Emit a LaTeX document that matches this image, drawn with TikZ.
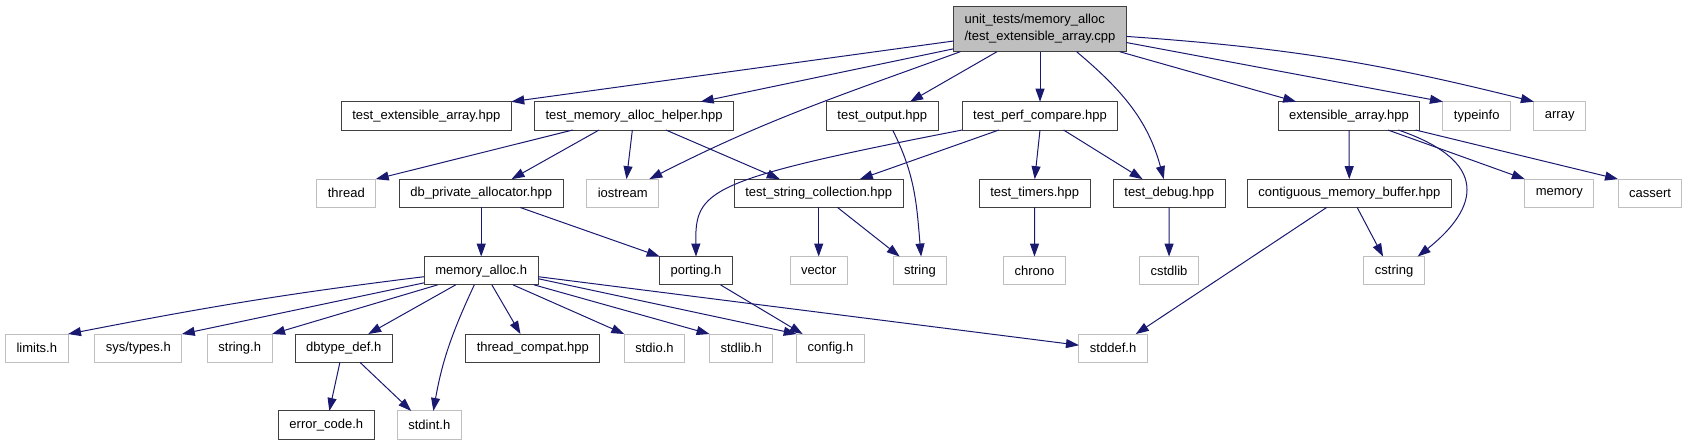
\documentclass[tikz,border=0pt]{standalone}
\usepackage{fontspec}
\setmainfont{Liberation Sans}
\usetikzlibrary{arrows.meta}
\definecolor{edgeblue}{HTML}{191970}
\definecolor{boxgray}{HTML}{BFBFBF}
\definecolor{boxdark}{HTML}{404040}
\begin{document}
\begin{tikzpicture}[x=1pt,y=-1pt,
  every node/.style={font=\fontsize{13}{16.5}\selectfont,minimum height=28.3pt,
    inner xsep=11pt,inner ysep=0pt,outer sep=0pt,line width=1pt},
  hdr/.style={draw=boxdark},
  sys/.style={draw=boxgray},
  rootbox/.style={draw=boxdark,fill=boxgray,align=left,minimum height=45.7pt},
  inc/.style={draw=edgeblue,line width=1pt,-{Triangle[length=13pt,width=9pt]}}]
\useasboundingbox (0,0) rectangle (1688,445);
% the file itself
\node[rootbox] (root) at (1040,28.85) {unit\_tests/memory\_alloc\\/test\_extensible\_array.cpp};
% first level
\node[hdr] (teah) at (426.3,115.85) {test\_extensible\_array.hpp};
\node[hdr] (tmah) at (634.1,115.85) {test\_memory\_alloc\_helper.hpp};
\node[hdr] (tout) at (882.3,115.85) {test\_output.hpp};
\node[hdr] (tpc) at (1040,115.85) {test\_perf\_compare.hpp};
\node[hdr] (eah) at (1349,115.85) {extensible\_array.hpp};
\node[sys] (typeinfo) at (1476.7,115.85) {typeinfo};
\node[sys] (array) at (1559.7,115.85) {array};
% second level
\node[sys] (thread) at (346.3,193.3) {thread};
\node[hdr] (dpa) at (481.2,193.3) {db\_private\_allocator.hpp};
\node[sys] (iostream) at (622.7,193.3) {iostream};
\node[hdr] (tsc) at (818.7,193.3) {test\_string\_collection.hpp};
\node[hdr] (ttim) at (1034.7,193.3) {test\_timers.hpp};
\node[hdr] (tdbg) at (1169.2,193.3) {test\_debug.hpp};
\node[hdr] (cmb) at (1349.3,193.3) {contiguous\_memory\_buffer.hpp};
\node[sys] (memory) at (1559.3,193.3) {memory};
\node[sys] (cassert) at (1650,193.3) {cassert};
% third level
\node[hdr] (mah) at (481.2,270.7) {memory\_alloc.h};
\node[hdr] (porting) at (696,270.7) {porting.h};
\node[sys] (vector) at (818.7,270.7) {vector};
\node[sys] (string) at (919.9,270.7) {string};
\node[sys] (chrono) at (1034.4,270.7) {chrono};
\node[sys] (cstdlib) at (1169,270.7) {cstdlib};
\node[sys] (cstring) at (1394.1,270.7) {cstring};
% fourth level
\node[sys] (limits) at (36.8,348.2) {limits.h};
\node[sys] (systypes) at (138.3,348.2) {sys/types.h};
\node[sys] (stringh) at (239.7,348.2) {string.h};
\node[hdr] (dbtype) at (343.7,348.2) {dbtype\_def.h};
\node[hdr] (tcompat) at (532.8,348.2) {thread\_compat.hpp};
\node[sys] (stdio) at (654.5,348.2) {stdio.h};
\node[sys] (stdlib) at (741.2,348.2) {stdlib.h};
\node[sys] (config) at (830.5,348.2) {config.h};
\node[sys] (stddef) at (1113.1,348.2) {stddef.h};
% fifth level
\node[hdr] (errcode) at (326.3,425.1) {error\_code.h};
\node[sys] (stdint) at (429.3,425.1) {stdint.h};

% includes of the test file
\draw[inc] (root.188) -- (teah.north east);
\draw[inc] (root.193) -- (tmah.12);
\draw[inc] (root.196) to[out=200,in=27] (iostream.28);
\draw[inc] (root.208) -- (tout.27);
\draw[inc] (root) -- (tpc);
\draw[inc] (root.328) to[out=-40,in=105] (tdbg.111);
\draw[inc] (root.344) -- (eah.165);
\draw[inc] (root.351) -- (typeinfo.north west);
\draw[inc] (root.355) to[out=-4,in=166] (array.north west);
% test_memory_alloc_helper.hpp
\draw[inc] (tmah.193) -- (thread.north east);
\draw[inc] (tmah.202) -- (dpa.25);
\draw[inc] (tmah.263) -- (iostream.75);
\draw[inc] (tmah.336) -- (tsc.160);
\draw[inc] (dpa) -- (mah);
\draw[inc] (dpa.340) -- (porting.north west);
\draw[inc] (tout.306) to[out=-63,in=95] (string.85);
% test_perf_compare.hpp
\draw[inc] (tpc.south west) .. controls (705,180) and (695,190) .. (porting.north);
\draw[inc] (tpc.199) -- (tsc.19);
\draw[inc] (tpc.south) -- (ttim.north);
\draw[inc] (tpc.329) -- (tdbg.152);
\draw[inc] (tsc) -- (vector);
\draw[inc] (tsc.323) -- (string.145);
\draw[inc] (ttim) -- (chrono);
\draw[inc] (tdbg) -- (cstdlib);
% extensible_array.hpp
\draw[inc] (eah) -- (cmb);
\draw[inc] (eah.344) .. controls (1500,165) and (1470,215) .. (cstring.31);
\draw[inc] (eah.340) -- (memory.north west);
\draw[inc] (eah.348) -- (cassert.north west);
\draw[inc] (cmb.299) -- (cstring.128);
\draw[inc] (cmb.212) -- (stddef.32);
% memory_alloc.h
\draw[inc] (mah.186) to[out=187,in=11] (limits.north east);
\draw[inc] (mah.192) -- (systypes.north east);
\draw[inc] (mah.198) -- (stringh.north east);
\draw[inc] (mah.209) -- (dbtype.30);
\draw[inc] (mah.244) to[out=245,in=80] (stdint.74);
\draw[inc] (mah.307) -- (tcompat.131);
\draw[inc] (mah.336) -- (stdio.north west);
\draw[inc] (mah.345) -- (stdlib.north west);
\draw[inc] (mah.352) -- (config.north west);
\draw[inc] (mah.354) -- (stddef.175);
\draw[inc] (porting.330) -- (config.153);
\draw[inc] (dbtype.255) -- (errcode.78);
\draw[inc] (dbtype.319) -- (stdint.142);
\end{tikzpicture}
\end{document}
